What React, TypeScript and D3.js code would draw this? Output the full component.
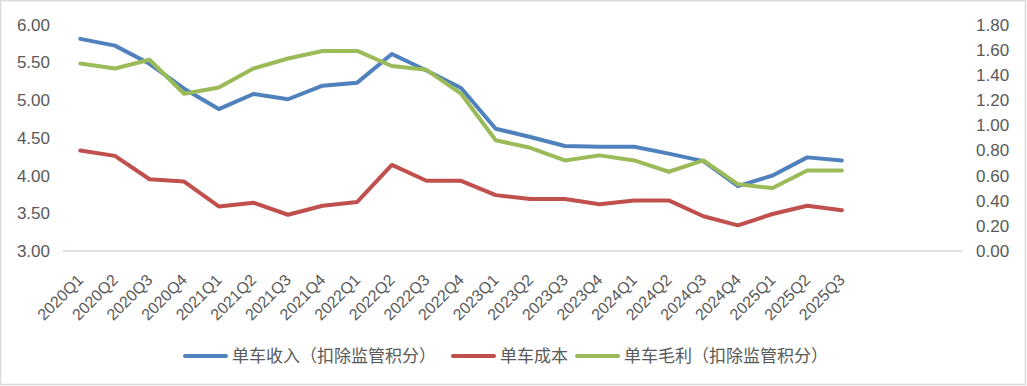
import { useEffect, useRef } from "react";
import * as d3 from "d3";

const categories = [
  "2020Q1", "2020Q2", "2020Q3", "2020Q4",
  "2021Q1", "2021Q2", "2021Q3", "2021Q4",
  "2022Q1", "2022Q2", "2022Q3", "2022Q4",
  "2023Q1", "2023Q2", "2023Q3", "2023Q4",
  "2024Q1", "2024Q2", "2024Q3", "2024Q4",
  "2025Q1", "2025Q2", "2025Q3",
];
// three empty slots after 2025Q3 on the category axis
const emptySlots = 3;

const revenue = [
  5.81, 5.72, 5.48, 5.15, 4.88, 5.08, 5.01, 5.19, 5.23, 5.61, 5.39, 5.16,
  4.62, 4.51, 4.39, 4.38, 4.38, 4.29, 4.19, 3.86, 4.0, 4.24, 4.2,
];
const cost = [
  4.33, 4.26, 3.95, 3.92, 3.59, 3.64, 3.48, 3.6, 3.65, 4.14, 3.93, 3.93,
  3.74, 3.69, 3.69, 3.62, 3.67, 3.67, 3.46, 3.34, 3.49, 3.6, 3.54,
];
const margin = [
  1.49, 1.45, 1.52, 1.25, 1.3, 1.45, 1.53, 1.59, 1.59, 1.47, 1.44, 1.25,
  0.88, 0.82, 0.72, 0.76, 0.72, 0.63, 0.72, 0.53, 0.5, 0.64, 0.64,
];

const leftTicks = [3, 3.5, 4, 4.5, 5, 5.5, 6];
const rightTicks = [0, 0.2, 0.4, 0.6, 0.8, 1.0, 1.2, 1.4, 1.6, 1.8];

const seriesNames = ["单车收入（扣除监管积分）", "单车成本", "单车毛利（扣除监管积分）"];
const seriesColors = ["#4F81BD", "#C0504D", "#9BBB59"];

const W = 1027;
const H = 386;
const FONT = "'Helvetica Neue', Helvetica, 'Liberation Sans', Arial, 'Noto Sans CJK SC', sans-serif";
const CJK = "'PingFang SC', 'Noto Sans CJK SC', sans-serif";

export default function App() {
  const ref = useRef<SVGSVGElement | null>(null);

  useEffect(() => {
    const svg = d3.select(ref.current);
    svg.selectAll("*").remove();

    const plot = { left: 63, right: 963, top: 24.5, bottom: 251 };

    const x = d3
      .scaleBand<number>()
      .domain(d3.range(categories.length + emptySlots))
      .range([plot.left, plot.right])
      .padding(0);
    const cx = (i: number) => (x(i) ?? 0) + x.bandwidth() / 2;

    const yL = d3.scaleLinear().domain([3, 6]).range([plot.bottom, plot.top]);
    const yR = d3.scaleLinear().domain([0, 1.8]).range([plot.bottom, plot.top]);

    // outer frame
    svg
      .append("rect")
      .attr("x", 0.5)
      .attr("y", 0.5)
      .attr("width", W - 2)
      .attr("height", H - 2)
      .attr("fill", "#fff")
      .attr("stroke", "#d9d9d9")
      .attr("stroke-width", 1.5);

    // base axis line
    svg
      .append("line")
      .attr("x1", plot.left)
      .attr("x2", plot.right)
      .attr("y1", yL(3))
      .attr("y2", yL(3))
      .attr("stroke", "#d9d9d9")
      .attr("stroke-width", 1.5);

    // left axis labels
    svg
      .append("g")
      .selectAll("text")
      .data(leftTicks)
      .enter()
      .append("text")
      .attr("x", 50)
      .attr("y", (d) => yL(d))
      .attr("dy", "0.36em")
      .attr("text-anchor", "end")
      .attr("font-family", FONT)
      .attr("font-size", 17)
      .attr("fill", "#595959")
      .text((d) => d3.format(".2f")(d));

    // right axis labels
    svg
      .append("g")
      .selectAll("text")
      .data(rightTicks)
      .enter()
      .append("text")
      .attr("x", 976)
      .attr("y", (d) => yR(d))
      .attr("dy", "0.36em")
      .attr("text-anchor", "start")
      .attr("font-family", FONT)
      .attr("font-size", 17)
      .attr("fill", "#595959")
      .text((d) => d3.format(".2f")(d));

    // category labels, rotated
    svg
      .append("g")
      .selectAll("text")
      .data(categories)
      .enter()
      .append("text")
      .attr("transform", (_, i) => `translate(${cx(i) + 4},281) rotate(-45)`)
      .attr("text-anchor", "end")
      .attr("font-family", FONT)
      .attr("font-size", 16)
      .attr("fill", "#595959")
      .text((d) => d);

    const lineL = d3
      .line<number>()
      .x((_, i) => cx(i))
      .y((d) => yL(d));
    const lineR = d3
      .line<number>()
      .x((_, i) => cx(i))
      .y((d) => yR(d));

    const paths: [number[], d3.Line<number>][] = [
      [revenue, lineL],
      [cost, lineL],
      [margin, lineR],
    ];
    paths.forEach(([data, gen], k) => {
      svg
        .append("path")
        .datum(data)
        .attr("fill", "none")
        .attr("stroke", seriesColors[k])
        .attr("stroke-width", 4)
        .attr("stroke-linejoin", "round")
        .attr("stroke-linecap", "round")
        .attr("d", gen);
    });

    // legend
    const legendX = [185, 453, 577];
    const legend = svg.append("g");
    seriesNames.forEach((name, k) => {
      legend
        .append("line")
        .attr("x1", legendX[k])
        .attr("x2", legendX[k] + 41)
        .attr("y1", 356)
        .attr("y2", 356)
        .attr("stroke", seriesColors[k])
        .attr("stroke-width", 4)
        .attr("stroke-linecap", "round");
      legend
        .append("text")
        .attr("x", legendX[k] + 47)
        .attr("y", 356)
        .attr("dy", "0.36em")
        .attr("font-family", CJK)
        .attr("font-size", 17)
        .attr("fill", "#595959")
        .text(name);
    });
  }, []);

  return (
    <svg
      ref={ref}
      width={W}
      height={H}
      style={{ position: "absolute", left: 0, top: 0, display: "block" }}
    />
  );
}
